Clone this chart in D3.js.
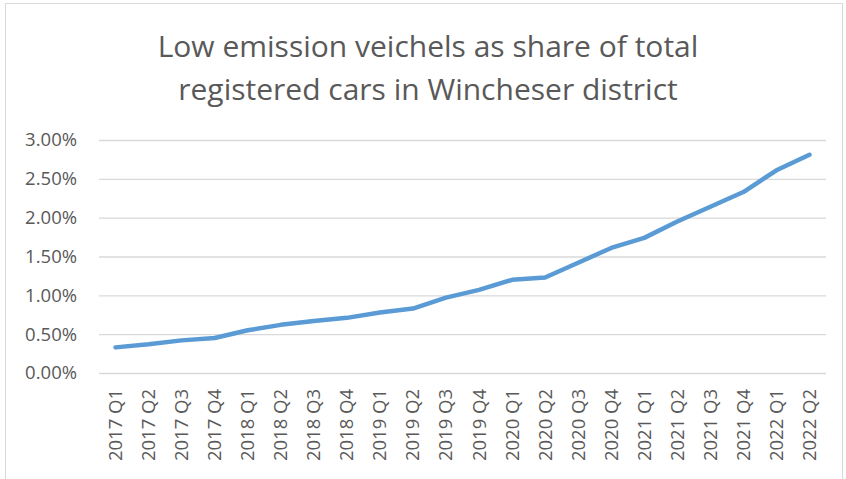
<!DOCTYPE html>
<html>
<head>
<meta charset="utf-8">
<script src="https://cdn.jsdelivr.net/npm/d3@7"></script>
<style>
  body { margin: 0; background: #fff; }
  svg { display: block; font-family: "Open Sans", sans-serif; }
</style>
</head>
<body>
<svg width="846" height="479"></svg>
<script>
// quarters along the x axis
var quarters = ["2017 Q1", "2017 Q2", "2017 Q3", "2017 Q4",
  "2018 Q1", "2018 Q2", "2018 Q3", "2018 Q4",
  "2019 Q1", "2019 Q2", "2019 Q3", "2019 Q4",
  "2020 Q1", "2020 Q2", "2020 Q3", "2020 Q4",
  "2021 Q1", "2021 Q2", "2021 Q3", "2021 Q4",
  "2022 Q1", "2022 Q2"];
// share of low emission cars, in percent
var share = [0.33, 0.37, 0.42, 0.45, 0.55, 0.62, 0.67, 0.71, 0.78, 0.83, 0.97, 1.07,
  1.20, 1.23, 1.42, 1.61, 1.74, 1.95, 2.14, 2.33, 2.61, 2.81];
var yTicks = [0, 0.5, 1, 1.5, 2, 2.5, 3];
var titleLines = ["Low emission veichels as share of total",
  "registered cars in Wincheser district"];

var svg = d3.select("svg");
// plot area (don't call it "top", that's window.top)
var plotL = 99, plotR = 826, plotT = 140, plotB = 373;

// chart frame
svg.append("rect")
  .attr("x", 5.5).attr("y", 3.5)
  .attr("width", 837).attr("height", 490)
  .attr("fill", "none").attr("stroke", "#d9d9d9");

svg.append("g").selectAll("text")
  .data(titleLines)
  .join("text")
  .attr("x", 428)
  .attr("y", function(d, i) { return 57 + i * 43; })
  .attr("text-anchor", "middle")
  .attr("font-size", 30)
  .attr("fill", "#595959")
  .text(function(d) { return d; });

var x = d3.scaleBand().domain(quarters).range([plotL, plotR]);
var y = d3.scaleLinear().domain([0, 3]).range([plotB, plotT]);

// gridlines + y labels
var yAxis = d3.axisLeft(y)
  .tickValues(yTicks)
  .tickSize(-(plotR - plotL))
  .tickPadding(22)
  .tickFormat(function(d) { return d.toFixed(2) + "%"; });

var gy = svg.append("g")
  .attr("transform", "translate(" + plotL + ",0)")
  .call(yAxis);
gy.select(".domain").remove();
gy.selectAll(".tick line").attr("stroke", "#d9d9d9").attr("stroke-width", 1.3);
gy.selectAll(".tick text")
  .attr("font-size", 18.5)
  .attr("font-family", "'Open Sans', sans-serif")
  .attr("fill", "#595959");

// x labels, rotated
var xAxis = d3.axisBottom(x).tickSize(0).tickPadding(0);
var gx = svg.append("g")
  .attr("transform", "translate(0," + plotB + ")")
  .call(xAxis);
gx.select(".domain").remove();
gx.selectAll(".tick text")
  .attr("font-size", 18.5)
  .attr("font-family", "'Open Sans', sans-serif")
  .attr("fill", "#595959")
  .attr("text-anchor", "end")
  .attr("dy", "0.35em")
  .attr("transform", "translate(0,16) rotate(-90)")
  .attr("x", 0).attr("y", 0);

var line = d3.line()
  .x(function(d, i) { return x(quarters[i]) + x.bandwidth() / 2; })
  .y(function(d) { return y(d); });

svg.append("path")
  .datum(share)
  .attr("d", line)
  .attr("fill", "none")
  .attr("stroke", "#5b9bd5")
  .attr("stroke-width", 4.5)
  .attr("stroke-linecap", "round")
  .attr("stroke-linejoin", "round");
</script>
</body>
</html>
